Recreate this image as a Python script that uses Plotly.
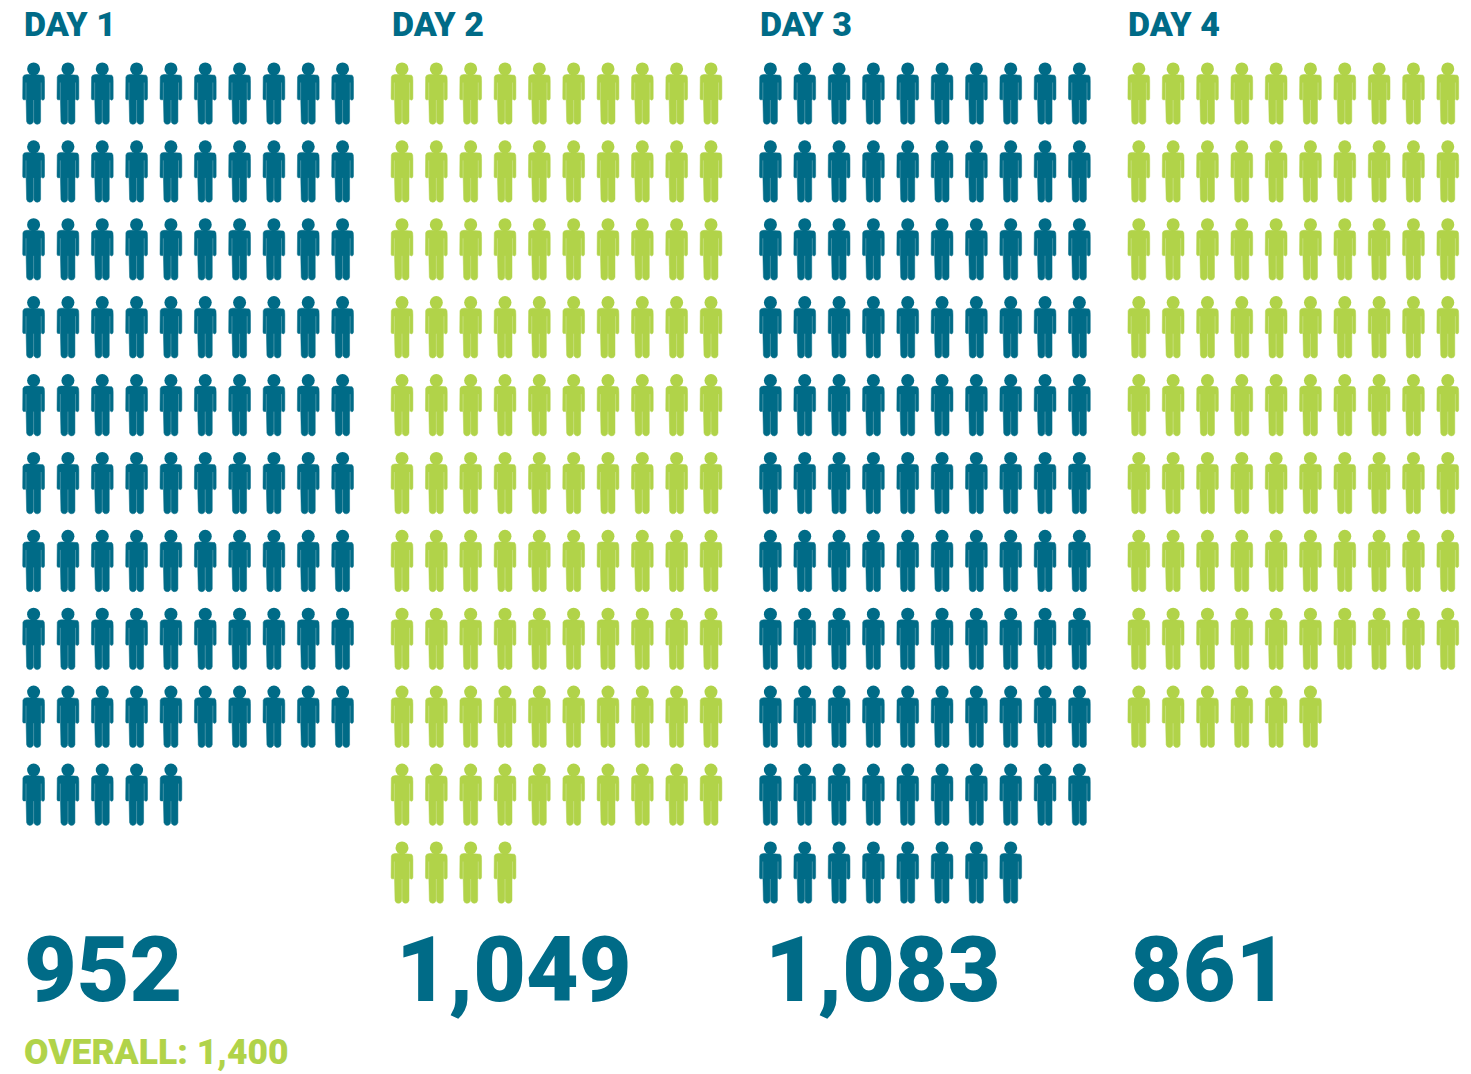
import plotly.graph_objects as go

# ---------- data ----------
days = ["DAY 1", "DAY 2", "DAY 3", "DAY 4"]
attendance = [952, 1049, 1083, 861]
attendance_labels = ["952", "1,049", "1,083", "861"]
icons_per_day = [95, 104, 108, 86]      # one figure = ten people
day_colors = ["#006B87", "#B1D349", "#006B87", "#B1D349"]
overall_label = "OVERALL: 1,400"
icons_per_row = 10

# ---------- layout of the pictogram (pixels of the 1471x1074 page) ----------
W, H = 1471, 1074
col_px, row_px = 34.33, 77.9           # grid pitch
first_x, first_y = 33.6, 93.5          # centre of first figure
panel_cols = 368.4 / col_px            # panel offset, in columns

# one figure's silhouette, in px relative to the figure centre
half_body = [(0, -19), (7, -19), (9.6, -18.3), (10.7, -16.5), (10.9, -13), (10.9, 5),
             (10.3, 6.3), (9.2, 6.7), (8, 6.3), (7.5, 5.5), (7.2, 6.5), (7.0, 7), (7.0, 28),
             (6, 30), (4, 30.8), (2, 30.5), (0.6, 29), (0, 27)]
body_px = half_body + [(-x, y) for x, y in reversed(half_body[:-1])]
head_y_px = -24.6
seam_arm_px = [(7.6, -11), (7.6, 6)]
seam_leg_px = [(0, 6.5), (0, 28)]


def to_units(x, y):
    return x / col_px, y / row_px


fig = go.Figure()
for d, (n, color) in enumerate(zip(icons_per_day, day_colors)):
    bx, by, hx, hy, sx, sy = [], [], [], [], [], []
    for i in range(n):
        cx = d * panel_cols + (i % icons_per_row)
        cy = float(i // icons_per_row)
        for x, y in body_px:
            ux, uy = to_units(x, y)
            bx.append(cx + ux)
            by.append(cy + uy)
        bx.append(None)
        by.append(None)
        hx.append(cx)
        hy.append(cy + head_y_px / row_px)
        for seam in ([seam_arm_px, [(-a, b) for a, b in seam_arm_px], seam_leg_px]):
            for x, y in seam:
                ux, uy = to_units(x, y)
                sx.append(cx + ux)
                sy.append(cy + uy)
            sx.append(None)
            sy.append(None)
    fig.add_trace(go.Scatter(x=bx, y=by, mode="lines", fill="toself", fillcolor=color,
                             line=dict(color=color, width=0.5), hoverinfo="skip",
                             name=days[d], showlegend=False))
    fig.add_trace(go.Scatter(x=sx, y=sy, mode="lines",
                             line=dict(color="rgba(255,255,255,0.25)", width=1),
                             hoverinfo="skip", showlegend=False))
    fig.add_trace(go.Scatter(x=hx, y=hy, mode="markers",
                             marker=dict(color=color, size=13, symbol="circle", line=dict(width=0)),
                             hovertemplate=f"{days[d]}: {attendance[d]:,}<extra></extra>",
                             showlegend=False))

FONT = "Roboto"
label_px = [23, 391, 759, 1127]
number_px = [23, 395, 764, 1129]


def add_text(text, px, py, size, color):
    fig.add_annotation(text=text, x=px / W, y=1 - py / H, xref="paper", yref="paper",
                       xanchor="left", yanchor="middle", showarrow=False,
                       xshift=0, borderpad=0,
                       font=dict(family=FONT, size=size, color=color, weight=900))


for d in range(4):
    add_text(days[d], label_px[d], 23.5, 34, "#006B87")
    add_text(attendance_labels[d], number_px[d], 970, 91, "#006B87")
add_text(overall_label, 23, 1052, 35.5, "#B1D349")

fig.update_layout(
    width=W, height=H, margin=dict(l=0, r=0, t=0, b=0),
    paper_bgcolor="white", plot_bgcolor="white", showlegend=False,
    xaxis=dict(range=[-first_x / col_px, (W - first_x) / col_px], visible=False, fixedrange=True),
    yaxis=dict(range=[(H - first_y) / row_px, -first_y / row_px], visible=False, fixedrange=True),
)
fig.write_html("out.html", config={"displayModeBar": False},
               post_script="document.body.style.margin='0';document.documentElement.style.overflow='hidden';")
